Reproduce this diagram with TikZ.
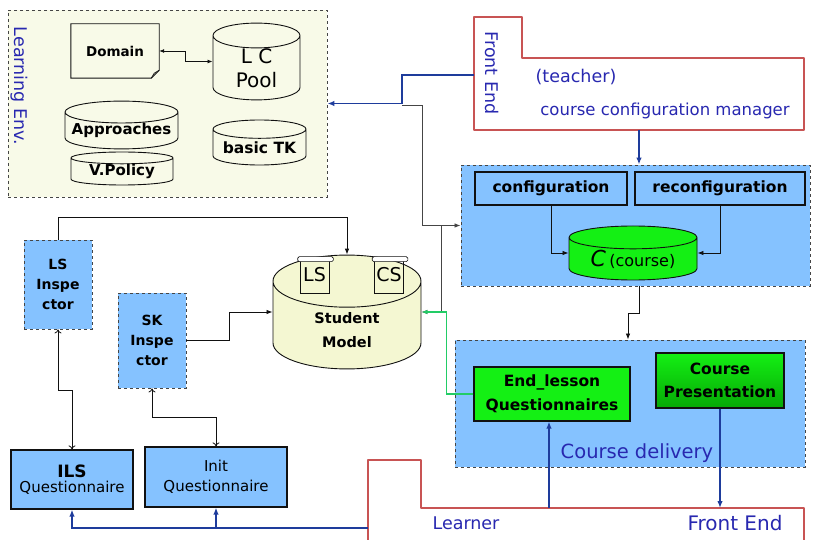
\documentclass[tikz,border=0pt]{standalone}
\usepackage{fontspec}
\setmainfont{DejaVu Sans}
\usetikzlibrary{arrows.meta,positioning,calc,shapes.geometric}
\definecolor{ink}{HTML}{111111}
\definecolor{grid}{HTML}{454545}
\definecolor{navy}{HTML}{1E3C9C}
\definecolor{penblue}{HTML}{2828B0}
\definecolor{frame}{HTML}{C85454}
\definecolor{envbg}{HTML}{F8FAE8}
\definecolor{smbg}{HTML}{F4F7D2}
\definecolor{sky}{HTML}{85C2FF}
\definecolor{lime}{HTML}{14F014}
\definecolor{limelt}{HTML}{70FF70}
\definecolor{limedk}{HTML}{06A806}
\definecolor{mint}{HTML}{22CC66}
\newcommand{\sunk}[1]{\raisebox{-5pt}[\height][\depth]{#1}}
\tikzset{
  panel/.style={draw=grid,dashed,line width=0.9pt,fill=#1},
  inspector/.style={draw=grid,dashed,line width=0.9pt,fill=sky,align=center,inner sep=0pt,font=\fontsize{14}{20}\selectfont\bfseries},
  drum/.style={cylinder,shape border rotate=90,anchor=shape center,draw=ink,line width=0.9pt,fill=#1,align=center,inner sep=0pt},
  qbox/.style={draw=ink,line width=1.2pt,fill=sky,align=center,inner sep=0pt},
  greenbox/.style={draw=ink,line width=1.2pt,fill=lime,align=center,inner sep=0pt,font=\fontsize{15.5}{24}\selectfont\bfseries},
  bluetext/.style={text=penblue,inner sep=0pt,font=\fontsize{17.5}{20}\selectfont},
  link/.style={-{Latex[length=6pt,width=4.5pt]},line width=0.8pt,draw=ink},
  twoway/.style={{To[length=4pt,width=7pt]}-{To[length=4pt,width=7pt]},line width=0.8pt,draw=ink},
  wire/.style={-{Latex[length=7pt,width=5.5pt]},line width=1.6pt,draw=navy},
  feframe/.style={draw=frame,line width=1.8pt,fill=white,line join=round},
  scroll/.style={draw=ink,line width=0.7pt,minimum width=29pt,minimum height=36pt,inner sep=0pt,font=\fontsize{19}{20}\selectfont}
}
\begin{document}
\begin{tikzpicture}[x=1pt,y=-1pt]
  \useasboundingbox (0,0) rectangle (815,540);

  % learning environment
  \node[panel=envbg,minimum width=319pt,minimum height=187pt] (env) at (167.5,103.5) {};
  \node[bluetext,rotate=-90] (envtitle) at (19,86) {Learning Env.};
  \node[minimum width=88pt,minimum height=54pt,font=\fontsize{13.5}{15}\selectfont\bfseries] (dom) at (115,51) {Domain};
  \draw[line width=0.9pt,draw=ink] (dom.north west) -- (dom.north east) -- ([yshift=8pt]dom.south east)
    -- ([xshift=-8pt]dom.south east) -- (dom.south west) -- cycle;
  \draw[line width=0.7pt,draw=ink] ([yshift=8pt]dom.south east) -- ([xshift=-5pt,yshift=5pt]dom.south east) -- ([xshift=-8pt]dom.south east);
  \node[drum=envbg,minimum width=87pt,minimum height=73pt,aspect=0.6,font=\fontsize{20}{24}\selectfont] (pool) at (256.5,61.5) {L C\\Pool};
  \node[drum=envbg,minimum width=113pt,minimum height=40pt,aspect=0.22,font=\fontsize{15}{17}\selectfont\bfseries] (appr) at (121.5,125) {Approaches};
  \node[drum=envbg,minimum width=102pt,minimum height=33pt,aspect=0.18,font=\fontsize{15}{17}\selectfont\bfseries] (vpol) at (122,168.5) {V.Policy};
  \node[drum=envbg,minimum width=93pt,minimum height=45pt,aspect=0.25,font=\fontsize{15.5}{17}\selectfont\bfseries] (btk) at (259.5,142.5) {basic TK};
  \draw[{Latex[length=5pt,width=4pt]}-{Latex[length=5pt,width=4pt]},line width=0.8pt,draw=ink] (dom.east) -- ++(26,0) |- (pool.west |- pool.shape center);

  % teacher front end
  \draw[feframe] (474,17) -- (522,17) -- (522,58) -- (804,58) -- (804,130) -- (474,130) -- cycle;
  \node[bluetext,rotate=-90] (tfetitle) at (492,73) {Front End};
  \node[bluetext] (teacher) at (576,77) {(teacher)};
  \node[bluetext,font=\fontsize{16.5}{20}\selectfont] (ccm) at (665,111) {course configuration manager};
  \coordinate (tfe) at (474,75);
  \coordinate (tfeb) at (639,130);

  % configuration
  \node[panel=sky,minimum width=349pt,minimum height=121pt] (cfg) at (635.5,225.5) {};
  \node[qbox,minimum width=152pt,minimum height=33pt,font=\fontsize{15.5}{17}\selectfont\bfseries] (conf) at (551,188.5) {configuration};
  \node[qbox,minimum width=170pt,minimum height=33pt,font=\fontsize{15.5}{17}\selectfont\bfseries] (reconf) at (720,188.5) {reconfiguration};
  \node[drum=lime,cylinder uses custom fill,cylinder body fill=lime,cylinder end fill=limelt,
    minimum width=128pt,minimum height=54pt,aspect=0.27] (crs) at (633,253)
    {{\fontsize{22}{22}\selectfont\itshape C} {\fontsize{16}{18}\selectfont(course)}};
  \draw[link] (conf.south) |- (crs.west |- crs.shape center);
  \draw[link] (reconf.south) |- (crs.east |- crs.shape center);
  \draw[wire] (tfeb) -- (tfeb |- cfg.north);

  % course delivery
  \node[panel=sky,minimum width=350pt,minimum height=127pt] (del) at (630,403.5) {};
  \node[greenbox,minimum width=156pt,minimum height=54pt] (endq) at (552,394) {End\_lesson\\Questionnaires};
  \node[greenbox,top color=lime,bottom color=limedk,minimum width=128pt,minimum height=55pt,
    font=\fontsize{15.5}{23}\selectfont\bfseries] (pres) at (720,380.5) {Course\\Presentation};
  \node[bluetext,font=\fontsize{19.5}{22}\selectfont] (deltitle) at (637,453) {Course delivery};
  \draw[link] ([xshift=3.5pt]cfg.south) -- ++(0,27) -| ([xshift=-2pt]del.north);

  % learner front end
  \draw[feframe] (368,545) -- (368,460) -- (421,460) -- (421,508) -- (804,508) -- (804,545);
  \node[bluetext] (learner) at (466,523) {Learner};
  \node[bluetext,font=\fontsize{20}{22}\selectfont] (lfetitle) at (735,523) {Front End};
  \coordinate (lfe) at (368,528);
  \coordinate (lfetop) at (549,508);
  \draw[wire] (lfetop) -- (lfetop |- endq.south);
  \draw[wire] (pres.south) -- (pres.south |- lfetop);

  % student side
  \node[drum=smbg,minimum width=148pt,minimum height=108pt,aspect=0.8,font=\fontsize{14.5}{24}\selectfont\bfseries] (sm) at (347,312) {\sunk{Student}\\\sunk{Model}};
  \node[scroll] (ls) at (314.5,275) {LS};
  \node[scroll] (cs) at (389,275) {CS};
  \draw[line width=0.7pt,draw=ink,fill=white,rounded corners=1.5pt] ([xshift=-2pt]ls.north west) rectangle ([xshift=4pt,yshift=-5pt]ls.north east);
  \draw[line width=0.7pt,draw=ink,fill=white,rounded corners=1.5pt] ([xshift=-2pt]cs.north west) rectangle ([xshift=4pt,yshift=-5pt]cs.north east);
  \node[inspector,minimum width=68pt,minimum height=89pt] (lsi) at (58,284.5) {LS\\Inspe\\ctor};
  \node[inspector,minimum width=68pt,minimum height=95pt] (ski) at (152,340.5) {SK\\Inspe\\ctor};
  \node[qbox,minimum width=122pt,minimum height=59pt] (ils) at (72,479.5)
    {{\fontsize{17}{19}\selectfont\bfseries ILS}\\[3pt]{\fontsize{15}{18}\selectfont Questionnaire}};
  \node[qbox,minimum width=142pt,minimum height=60pt,font=\fontsize{15}{20}\selectfont] (initq) at (216,477) {Init\\Questionnaire};

  % connectors
  \draw[wire] (tfe) -- ++(-72,0) |- (env.east);
  \coordinate (split) at (402,105);
  \coordinate (tap) at (441,225.5);
  \draw[link,draw=grid] (split) -- ++(20,0) |- (cfg.west);
  \draw[link,draw=grid] (tap) |- (sm.east |- sm.shape center);
  \draw[link,draw=mint,line width=1.2pt] (endq.west) -- ++(-27,0) |- (sm.east |- sm.shape center);
  \draw[link] (lsi.north) -- ++(0,-22) -| (sm.north);
  \draw[link] (ski.east) -- ++(43,0) |- (sm.west |- sm.shape center);
  \draw[twoway] (lsi.south) -- ++(0,61) -| (ils.north);
  \draw[twoway] (ski.south) -- ++(0,29) -| (initq.north);
  \draw[wire] (lfe) -| (ils.south);
  \draw[wire] (initq.south |- lfe) -- (initq.south);
\end{tikzpicture}
\end{document}
